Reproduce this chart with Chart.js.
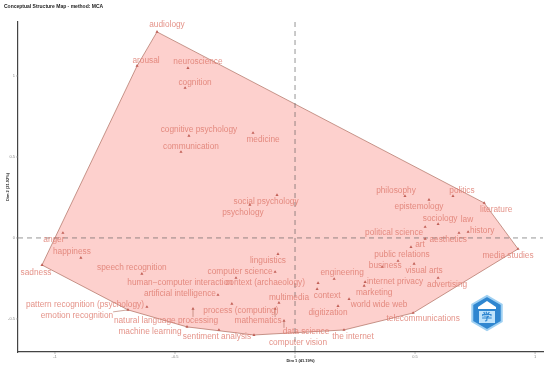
<!DOCTYPE html>
<html>
<head>
<meta charset="utf-8">
<script src="https://cdn.jsdelivr.net/npm/chart.js@4/dist/chart.umd.min.js"></script>
<style>
  html, body { margin: 0; padding: 0; background: #ffffff; }
  #wrap { width: 550px; height: 368px; position: relative; }
</style>
</head>
<body>
<div id="wrap"><canvas id="c" width="550" height="368"></canvas></div>
<script>
// ---- data (MCA coordinates) ----
const terms = [
  "audiology", "arousal", "neuroscience", "cognition", "cognitive psychology",
  "medicine", "communication", "social psychology", "psychology", "anger",
  "happiness", "sadness", "speech recognition", "human\u2212computer interaction", "computer science",
  "linguistics", "context (archaeology)", "artificial intelligence", "multimedia", "mathematics",
  "process (computing)", "pattern recognition (psychology)", "emotion recognition", "natural language processing", "machine learning",
  "sentiment analysis", "computer vision", "data science", "the internet", "digitization",
  "world wide web", "context", "engineering", "marketing", "internet privacy",
  "business", "public relations", "visual arts", "advertising", "art",
  "aesthetics", "political science", "sociology", "law", "history",
  "philosophy", "epistemology", "politics", "literature", "media studies",
  "telecommunications"
];
const dim1 = [
  -0.575, -0.658, -0.446, -0.458, -0.442,
  -0.175, -0.475, -0.075, -0.188, -0.967,
  -0.892, -1.054, -0.638, -0.246, -0.083,
  -0.071,  0.096, -0.321, -0.067, -0.083,
  -0.263, -0.617, -0.696, -0.425, -0.450,
  -0.317, -0.171, -0.046,  0.204,  0.179,
   0.225,  0.092,  0.163,  0.288,  0.292,
   0.363,  0.429,  0.496,  0.596,  0.483,
   0.542,  0.542,  0.596,  0.683,  0.721,
   0.458,  0.558,  0.658,  0.788,  0.929,
   0.492
];
const dim2 = [
   1.272,  1.062,  1.049,  0.926,  0.630,
   0.648,  0.531,  0.265,  0.204,  0.031,
  -0.123, -0.167, -0.222, -0.247, -0.210,
  -0.099, -0.278, -0.352, -0.401, -0.438,
  -0.407, -0.426, -0.444, -0.438, -0.549,
  -0.568, -0.599, -0.512, -0.568, -0.420,
  -0.377, -0.315, -0.253, -0.296, -0.272,
  -0.179, -0.142, -0.160, -0.247, -0.056,
  -0.006,  0.068,  0.086,  0.031,  0.037,
   0.259,  0.235,  0.259,  0.216, -0.068,
  -0.463
];
const xTicks = [-1, -0.5, 0, 0.5, 1];
const yTicks = [-0.5, 0, 0.5, 1];

// ---- label layout (pixel offsets of label centres from their points) ----
const labelOffset = [
  [10,-7],[9,-5],[10,-6],[10,-5],[10,-6],
  [10,7],[10,-5],[-11,7],[-7,8],[-9,7],
  [-9,-6],[-6,8],[-10,-6],[-56,5],[-35,0],
  [-10,7],[-53,0],[-38,-1],[10,-5],[-17,12],
  [9,7],[-62,-2],[-51,6],[-27,12],[-37,5],
  [-2,7],[44,8],[22,11],[9,7],[-10,7],
  [30,6],[10,7],[8,-6],[10,7],[30,0],
  [3,-1],[4,-6],[10,7],[9,7],[9,-2],
  [23,1],[-31,6],[2,-5],[8,-13],[14,-1],
  [-9,-5],[-10,7],[9,-5],[12,7],[-10,7],
  [10,6]
];
const leader = new Set(["emotion recognition", "natural language processing", "mathematics", "data science"]);

const hullFill = "rgba(248,118,109,0.34)";
const hullLine = "rgba(170,105,90,0.85)";
const labelColor = "rgba(222,122,110,0.82)";
const markColor = "rgba(190,90,80,0.95)";

function convexHull(pts) {
  const p = pts.slice().sort((a, b) => a.x - b.x || a.y - b.y);
  const cross = (o, a, b) => (a.x - o.x) * (b.y - o.y) - (a.y - o.y) * (b.x - o.x);
  const lower = [], upper = [];
  for (const q of p) { while (lower.length >= 2 && cross(lower[lower.length-2], lower[lower.length-1], q) <= 0) lower.pop(); lower.push(q); }
  for (let i = p.length - 1; i >= 0; i--) { const q = p[i]; while (upper.length >= 2 && cross(upper[upper.length-2], upper[upper.length-1], q) <= 0) upper.pop(); upper.push(q); }
  upper.pop(); lower.pop();
  return lower.concat(upper);
}

const points = terms.map((t, i) => ({ x: dim1[i], y: dim2[i] }));

const decor = {
  id: "decor",
  beforeDatasetsDraw(chart) {
    const { ctx, chartArea: a, scales: { x, y } } = chart;
    ctx.save();
    // hull
    const hull = convexHull(points);
    ctx.beginPath();
    hull.forEach((p, i) => {
      const px = x.getPixelForValue(p.x), py = y.getPixelForValue(p.y);
      if (i === 0) ctx.moveTo(px, py); else ctx.lineTo(px, py);
    });
    ctx.closePath();
    ctx.fillStyle = hullFill;
    ctx.fill();
    ctx.strokeStyle = hullLine;
    ctx.lineWidth = 0.8;
    ctx.stroke();
    // origin dashed lines
    ctx.setLineDash([5, 4]);
    ctx.strokeStyle = "rgba(90,90,90,0.8)";
    ctx.lineWidth = 0.8;
    const x0 = x.getPixelForValue(0), y0 = y.getPixelForValue(0);
    ctx.beginPath(); ctx.moveTo(x0, a.top); ctx.lineTo(x0, a.bottom); ctx.stroke();
    ctx.beginPath(); ctx.moveTo(a.left, y0); ctx.lineTo(a.right, y0); ctx.stroke();
    ctx.setLineDash([]);
    // tick marks & tiny tick labels
    ctx.fillStyle = "#8a8a8a";
    ctx.strokeStyle = "#8a8a8a";
    ctx.lineWidth = 0.6;
    ctx.font = "4px 'Liberation Sans'";
    ctx.textAlign = "center"; ctx.textBaseline = "top";
    xTicks.forEach(v => {
      const px = x.getPixelForValue(v);
      ctx.beginPath(); ctx.moveTo(px, a.bottom); ctx.lineTo(px, a.bottom + 2); ctx.stroke();
      ctx.fillText(String(v), px, a.bottom + 3);
    });
    ctx.textAlign = "right"; ctx.textBaseline = "middle";
    yTicks.forEach(v => {
      const py = y.getPixelForValue(v);
      ctx.beginPath(); ctx.moveTo(a.left - 2, py); ctx.lineTo(a.left, py); ctx.stroke();
      ctx.fillText(String(v), a.left - 3, py);
    });
    ctx.restore();
  },
  afterDatasetsDraw(chart) {
    const { ctx, chartArea: a, scales: { x, y } } = chart;
    ctx.save();
    ctx.font = "8.3px 'Liberation Sans'";
    ctx.textAlign = "center"; ctx.textBaseline = "middle";
    terms.forEach((t, i) => {
      const px = x.getPixelForValue(dim1[i]), py = y.getPixelForValue(dim2[i]);
      const lx = px + labelOffset[i][0], ly = py + labelOffset[i][1];
      if (leader.has(t)) {
        const w = ctx.measureText(t).width / 2, h = 4;
        const ex = Math.max(lx - w, Math.min(px, lx + w));
        const ey = Math.max(ly - h, Math.min(py, ly + h));
        ctx.strokeStyle = hullLine; ctx.lineWidth = 0.7;
        ctx.beginPath(); ctx.moveTo(px, py); ctx.lineTo(ex, ey); ctx.stroke();
      }
      ctx.fillStyle = labelColor;
      ctx.fillText(t, lx, ly);
    });
    // logo badge
    const cx = a.right - 56, cy = a.bottom - 39, r = 17;
    ctx.beginPath();
    for (let k = 0; k < 6; k++) {
      const ang = Math.PI / 6 + k * Math.PI / 3;
      const qx = cx + r * Math.cos(ang), qy = cy + r * Math.sin(ang);
      if (k === 0) ctx.moveTo(qx, qy); else ctx.lineTo(qx, qy);
    }
    ctx.closePath();
    ctx.fillStyle = "#2f86d0"; ctx.fill();
    ctx.strokeStyle = "#9fd0f2"; ctx.lineWidth = 2; ctx.stroke();
    ctx.fillStyle = "#ffffff";
    ctx.fillRect(cx - 9, cy - 6, 18, 2);
    ctx.beginPath(); ctx.moveTo(cx - 9, cy - 6); ctx.lineTo(cx, cy - 12); ctx.lineTo(cx + 9, cy - 6); ctx.closePath(); ctx.fill();
    ctx.fillStyle = "#bfe3fb";
    ctx.fillRect(cx - 8, cy - 2, 16, 12);
    ctx.fillStyle = "#2f86d0";
    ctx.font = "bold 10px 'Liberation Sans'";
    ctx.fillText("\u5b66", cx, cy + 4);
    // titles
    ctx.fillStyle = "#222";
    ctx.textAlign = "left"; ctx.textBaseline = "middle";
    ctx.font = "bold 5px 'Liberation Sans'";
    ctx.fillText("Conceptual Structure Map - method: MCA", 4, 7);
    ctx.textAlign = "center";
    ctx.font = "bold 4px 'Liberation Sans'";
    ctx.fillText("Dim 1 (41.19%)", (a.left + a.right) / 2 + 20, a.bottom + 9);
    ctx.save();
    ctx.translate(8, (a.top + a.bottom) / 2);
    ctx.rotate(-Math.PI / 2);
    ctx.fillText("Dim 2 (21.92%)", 0, 0);
    ctx.restore();
    ctx.restore();
  }
};

new Chart(document.getElementById("c"), {
  type: "scatter",
  data: {
    datasets: [{
      data: points,
      pointStyle: "triangle",
      pointRadius: 1.8,
      pointBackgroundColor: markColor,
      pointBorderColor: markColor,
      pointBorderWidth: 0
    }]
  },
  options: {
    responsive: false,
    animation: false,
    layout: { padding: { left: 18, right: 7, top: 22, bottom: 16 } },
    plugins: { legend: { display: false }, tooltip: { enabled: false }, title: { display: false } },
    scales: {
      x: { type: "linear", min: -1.154, max: 1.033, grid: { display: false, drawTicks: false }, ticks: { display: false }, border: { display: true, color: "#444", width: 1.2 } },
      y: { type: "linear", min: -0.704, max: 1.333, grid: { display: false, drawTicks: false }, ticks: { display: false }, border: { display: true, color: "#444", width: 1.2 } }
    }
  },
  plugins: [decor]
});
</script>
</body>
</html>
